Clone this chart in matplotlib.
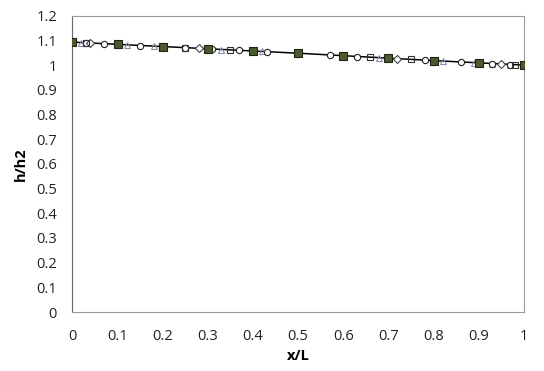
import matplotlib
matplotlib.use("Agg")
import matplotlib.pyplot as plt

plt.rcParams['font.family'] = ['Open Sans', 'DejaVu Sans']

# solid reference line
line_x = [0.0, 0.1, 0.2, 0.3, 0.4, 0.5, 0.6, 0.7, 0.8, 0.9, 1.0]
line_y = [1.094, 1.085, 1.076, 1.067, 1.058, 1.049, 1.039, 1.029, 1.019, 1.010, 1.001]

# filled squares
sq_fill_x = [0.0, 0.1, 0.2, 0.3, 0.4, 0.5, 0.6, 0.7, 0.8, 0.9, 1.0]
sq_fill_y = [1.094, 1.085, 1.076, 1.067, 1.058, 1.049, 1.039, 1.029, 1.019, 1.010, 1.001]

# open circles
circ_x = [0.0, 0.03, 0.07, 0.15, 0.25, 0.31, 0.37, 0.43, 0.57, 0.63, 0.70, 0.78, 0.86, 0.93, 0.97, 1.0]
circ_y = [1.094, 1.091, 1.088, 1.080, 1.071, 1.065, 1.060, 1.054, 1.041, 1.035, 1.028, 1.020, 1.013, 1.007, 1.003, 1.001]

# open triangles
tri_x = [0.0, 0.02, 0.12, 0.18, 0.33, 0.42, 0.60, 0.68, 0.82, 0.89, 0.93, 0.97, 1.0]
tri_y = [1.094, 1.092, 1.083, 1.077, 1.064, 1.056, 1.039, 1.031, 1.017, 1.011, 1.007, 1.003, 1.001]

# open diamonds
dia_x = [0.04, 0.28, 0.72, 0.95]
dia_y = [1.090, 1.069, 1.027, 1.005]

# open squares
sq_open_x = [0.03, 0.25, 0.35, 0.66, 0.75, 0.98]
sq_open_y = [1.091, 1.071, 1.062, 1.033, 1.024, 1.002]

y_ticks = [0, 0.1, 0.2, 0.3, 0.4, 0.5, 0.6, 0.7, 0.8, 0.9, 1, 1.1, 1.2]
x_ticks = [0, 0.1, 0.2, 0.3, 0.4, 0.5, 0.6, 0.7, 0.8, 0.9, 1]

fig = plt.figure(figsize=(5.44, 3.71), dpi=100)
ax = fig.add_axes([0.133, 0.159, 0.830, 0.798])

ax.plot(line_x, line_y, color='black', lw=1.1, zorder=2)
ax.plot(tri_x, tri_y, ls='none', marker='^', ms=5, mfc='none', mec='#8a8fa8', mew=0.8, zorder=3)
ax.plot(circ_x, circ_y, ls='none', marker='o', ms=4.5, mfc='white', mec='#222222', mew=0.8, zorder=3)
ax.plot(dia_x, dia_y, ls='none', marker='D', ms=3.8, mfc='white', mec='#444444', mew=0.8, zorder=3)
ax.plot(sq_open_x, sq_open_y, ls='none', marker='s', ms=5, mfc='none', mec='#333333', mew=0.8, zorder=3)
ax.plot(sq_fill_x, sq_fill_y, ls='none', marker='s', ms=5.3, mfc='#4b5a30', mec='#1e2412', mew=0.8, zorder=4)

ax.set_xlim(0, 1)
ax.set_ylim(0, 1.2)
ax.set_xticks(x_ticks)
ax.set_xticklabels([f"{v:g}" for v in x_ticks])
ax.set_yticks(y_ticks)
ax.set_yticklabels([f"{v:g}" for v in y_ticks])
ax.tick_params(axis='x', length=0, labelsize=10.5, colors='#222222', pad=12)
ax.tick_params(axis='y', length=0, labelsize=10.5, colors='#222222', pad=11)

for s in ax.spines.values():
    s.set_color('#9a9a9a')
    s.set_linewidth(0.8)
ax.spines['left'].set_color('#6a6a6a')

ax.set_xlabel('x/L', fontsize=10.5, fontweight='bold', labelpad=4)
ax.set_ylabel('h/h2', fontsize=10.5, fontweight='bold', labelpad=6)

fig.savefig('out.png', dpi=100)
